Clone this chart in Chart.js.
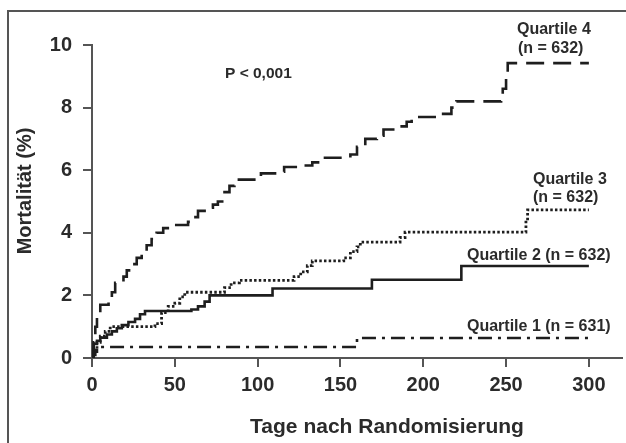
<!DOCTYPE html>
<html>
<head>
<meta charset="utf-8">
<script src="https://cdn.jsdelivr.net/npm/chart.js@4"></script>
<style>
  html, body { margin: 0; padding: 0; background: #fff; }
  canvas { display: block; }
</style>
</head>
<body>
<canvas id="chart-mortality" width="626" height="443"></canvas>
<script>
// Kaplan-Meier steps: day of event -> cumulative mortality (%)
const q4Days   = [0, 1, 2, 3, 5, 10, 12, 14, 19, 21, 24, 27, 30, 33, 36, 39, 43, 47, 58, 61, 64, 70, 73, 76, 80, 83, 86, 100, 102, 114, 116, 128, 133, 138, 156, 160, 165, 172, 176, 184, 190, 193, 212, 217, 220, 247, 248, 250, 251, 300];
const q4Values = [0, 0.5, 1.0, 1.3, 1.7, 1.8, 2.1, 2.4, 2.6, 2.8, 3.0, 3.2, 3.4, 3.6, 3.8, 4.0, 4.15, 4.25, 4.35, 4.5, 4.7, 4.8, 4.9, 5.0, 5.3, 5.5, 5.7, 5.75, 5.9, 5.95, 6.1, 6.15, 6.25, 6.4, 6.5, 6.75, 7.0, 7.1, 7.3, 7.4, 7.55, 7.7, 7.8, 8.0, 8.2, 8.3, 8.6, 9.0, 9.42, 9.42];

const q3Days   = [0, 1, 3, 5, 8, 11, 38, 42, 46, 50, 53, 56, 80, 84, 89, 122, 126, 130, 133, 152, 156, 160, 162, 186, 189, 262, 263, 300];
const q3Values = [0, 0.25, 0.5, 0.7, 0.85, 1.0, 1.1, 1.45, 1.65, 1.75, 1.95, 2.1, 2.25, 2.4, 2.48, 2.6, 2.75, 2.95, 3.1, 3.2, 3.4, 3.55, 3.7, 3.85, 4.02, 4.4, 4.73, 4.73];

const q2Days   = [0, 0.5, 1, 3, 5, 9, 12, 15, 18, 22, 26, 29, 32, 60, 64, 68, 71, 109, 169, 223, 300];
const q2Values = [0, 0.3, 0.45, 0.55, 0.65, 0.75, 0.85, 0.95, 1.05, 1.15, 1.25, 1.4, 1.5, 1.55, 1.65, 1.8, 2.0, 2.22, 2.5, 2.94, 2.94];

const q1Days   = [0, 1, 2, 3, 5, 160, 300];
const q1Values = [0, 0.1, 0.2, 0.3, 0.35, 0.64, 0.64];

const xTicks = [0, 50, 100, 150, 200, 250, 300];
const yTicks = [0, 2, 4, 6, 8, 10];

const ink = '#1e1e1e';
const textColor = '#2b2b2b';
const axisColor = '#555';
const fontFamily = "'Liberation Sans', Arial, sans-serif";

const toPoints = (days, values) => days.map((d, i) => ({ x: d, y: values[i] }));

const series = (data, dash, width) => ({
	data: data,
	stepped: 'before',
	borderColor: ink,
	borderWidth: width,
	borderDash: dash,
	pointRadius: 0,
	fill: false
});

const labels = [
	{ text: 'P < 0,001', x: 225, y: 74, size: 15.5 },
	{ text: 'Quartile 4', x: 517, y: 30, size: 16 },
	{ text: '(n = 632)', x: 518, y: 49, size: 16 },
	{ text: 'Quartile 3', x: 533, y: 180, size: 16 },
	{ text: '(n = 632)', x: 533, y: 198, size: 16 },
	{ text: 'Quartile 2 (n = 632)', x: 467, y: 256, size: 16 },
	{ text: 'Quartile 1 (n = 631)', x: 467, y: 327, size: 16 }
];

const framePlugin = {
	id: 'frame',
	beforeDraw(chart) {
		const ctx = chart.ctx;
		ctx.save();
		ctx.fillStyle = '#fff';
		ctx.fillRect(0, 0, chart.width, chart.height);
		ctx.strokeStyle = '#555';
		ctx.lineWidth = 2;
		ctx.beginPath();
		ctx.moveTo(8, chart.height);
		ctx.lineTo(8, 11);
		ctx.lineTo(chart.width, 11);
		ctx.stroke();
		ctx.restore();
	}
};

const textPlugin = {
	id: 'texts',
	afterDraw(chart) {
		const ctx = chart.ctx;
		ctx.save();
		ctx.fillStyle = textColor;
		ctx.textBaseline = 'middle';
		ctx.textAlign = 'left';
		labels.forEach(l => {
			ctx.font = 'bold ' + l.size + 'px ' + fontFamily;
			ctx.fillText(l.text, l.x, l.y);
		});
		// axis titles sit a little off the plot centre in the original
		ctx.textAlign = 'center';
		ctx.font = 'bold 21px ' + fontFamily;
		ctx.fillText('Tage nach Randomisierung', 387, 427);
		ctx.translate(25, 191);
		ctx.rotate(-Math.PI / 2);
		ctx.font = 'bold 20px ' + fontFamily;
		ctx.fillText('Mortalität (%)', 0, 0);
		ctx.restore();
	}
};

const ctx = document.getElementById('chart-mortality').getContext('2d');
const myChart = new Chart(ctx, {
	type: 'line',
	data: {
		datasets: [
			series(toPoints(q4Days, q4Values), [18, 9], 2.6),
			series(toPoints(q3Days, q3Values), [2.5, 2.2], 2.8),
			series(toPoints(q2Days, q2Values), [], 2.6),
			series(toPoints(q1Days, q1Values), [14, 6, 3, 6], 2.6)
		]
	},
	options: {
		responsive: false,
		animation: false,
		devicePixelRatio: 1,
		layout: {
			padding: { left: 11, top: 45, right: 4, bottom: 0 }
		},
		plugins: {
			legend: { display: false },
			tooltip: { enabled: false }
		},
		scales: {
			x: {
				type: 'linear',
				min: 0,
				max: 320,
				afterFit: scale => { scale.height = 85; },
				afterBuildTicks: scale => { scale.ticks = xTicks.map(v => ({ value: v })); },
				ticks: {
					font: { family: fontFamily, size: 20, weight: 'bold' },
					color: textColor,
					padding: 6,
					maxRotation: 0
				},
				grid: {
					drawOnChartArea: false,
					drawTicks: true,
					tickLength: 9,
					color: axisColor,
					lineWidth: 2
				},
				border: { display: true, color: axisColor, width: 2 }
			},
			y: {
				min: 0,
				max: 10,
				afterFit: scale => { scale.width = 81; },
				afterBuildTicks: scale => { scale.ticks = yTicks.map(v => ({ value: v })); },
				ticks: {
					font: { family: fontFamily, size: 20, weight: 'bold' },
					color: textColor,
					padding: 11
				},
				grid: {
					drawOnChartArea: false,
					drawTicks: true,
					tickLength: 9,
					color: axisColor,
					lineWidth: 2
				},
				border: { display: true, color: axisColor, width: 2 }
			}
		}
	},
	plugins: [framePlugin, textPlugin]
});
</script>
</body>
</html>
